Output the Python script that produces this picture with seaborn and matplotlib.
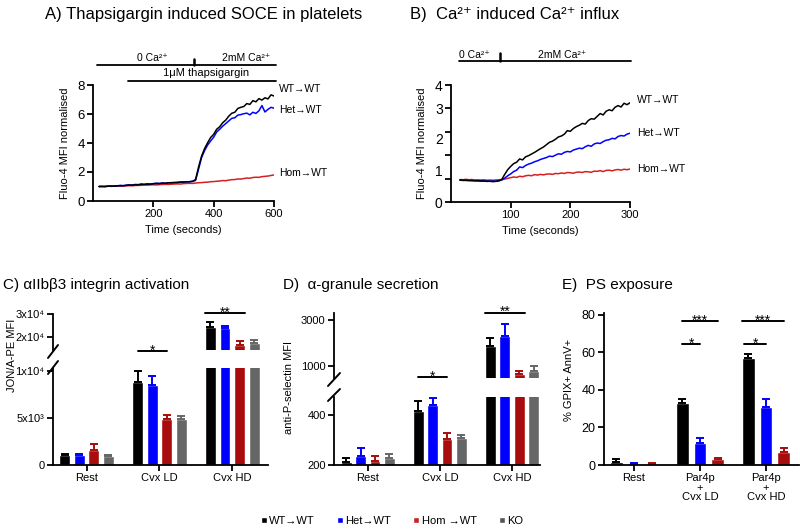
import numpy as np
import pandas as pd
import seaborn as sns
import matplotlib.pyplot as plt
from matplotlib.patches import Patch
from matplotlib.lines import Line2D

# ---- traces (A: thapsigargin SOCE, B: Ca2+ induced influx) ----
t_A = np.arange(20, 601, 10)
wt_A = [1.00, 1.01, 0.99, 1.02, 1.03, 1.02, 1.05, 1.06, 1.05, 1.08,
        1.10, 1.09, 1.12, 1.11, 1.15, 1.14, 1.17, 1.16, 1.19, 1.21,
        1.20, 1.23, 1.22, 1.26, 1.25, 1.28, 1.27, 1.31, 1.30, 1.33,
        1.32, 1.36, 1.48, 2.35, 3.10, 3.62, 4.02, 4.38, 4.60, 4.95,
        5.12, 5.40, 5.58, 5.85, 6.05, 6.12, 6.38, 6.46, 6.52, 6.72,
        6.66, 6.92, 6.84, 7.06, 6.96, 7.12, 7.04, 7.32, 7.24]
het_A = [1.00, 0.99, 1.01, 1.03, 1.02, 1.04, 1.04, 1.07, 1.06, 1.09,
         1.11, 1.10, 1.14, 1.13, 1.17, 1.15, 1.18, 1.17, 1.20, 1.22,
         1.21, 1.24, 1.23, 1.25, 1.27, 1.26, 1.29, 1.30, 1.32, 1.31,
         1.34, 1.35, 1.42, 2.20, 3.00, 3.48, 3.86, 4.14, 4.40, 4.76,
         4.95, 5.16, 5.34, 5.52, 5.70, 5.74, 5.92, 5.96, 6.02, 6.06,
         5.94, 6.12, 6.04, 6.22, 6.58, 6.14, 6.32, 6.46, 6.40]
hom_A = [1.00, 1.01, 1.00, 1.02, 1.01, 1.02, 1.03, 1.03, 1.04, 1.04,
         1.06, 1.05, 1.07, 1.08, 1.08, 1.10, 1.09, 1.11, 1.12, 1.11,
         1.13, 1.14, 1.15, 1.14, 1.16, 1.17, 1.18, 1.17, 1.20, 1.21,
         1.22, 1.21, 1.24, 1.26, 1.27, 1.29, 1.30, 1.33, 1.34, 1.36,
         1.38, 1.41, 1.40, 1.44, 1.47, 1.48, 1.52, 1.51, 1.55, 1.58,
         1.57, 1.62, 1.64, 1.63, 1.68, 1.70, 1.72, 1.76, 1.80]

t_B = np.arange(15, 301, 5)
wt_B = [0.94, 0.92, 0.93, 0.91, 0.92, 0.90, 0.91, 0.89, 0.90, 0.88,
        0.89, 0.87, 0.88, 0.90, 0.96, 1.18, 1.38, 1.52, 1.64, 1.70,
        1.84, 1.80, 1.93, 1.98, 2.05, 2.12, 2.20, 2.28, 2.35, 2.45,
        2.55, 2.60, 2.68, 2.78, 2.82, 2.90, 3.05, 3.02, 3.14, 3.22,
        3.28, 3.36, 3.33, 3.48, 3.56, 3.54, 3.66, 3.78, 3.72, 3.88,
        3.94, 3.90, 4.05, 4.12, 4.06, 4.22, 4.16, 4.24]
het_B = [0.93, 0.94, 0.92, 0.93, 0.91, 0.92, 0.90, 0.91, 0.89, 0.90,
         0.88, 0.90, 0.89, 0.91, 0.94, 1.02, 1.12, 1.20, 1.30, 1.36,
         1.50, 1.47, 1.56, 1.62, 1.66, 1.72, 1.76, 1.82, 1.86, 1.90,
         1.96, 1.94, 2.00, 2.06, 2.04, 2.12, 2.16, 2.14, 2.22, 2.26,
         2.30, 2.28, 2.36, 2.42, 2.38, 2.48, 2.52, 2.50, 2.58, 2.64,
         2.66, 2.72, 2.70, 2.80, 2.84, 2.82, 2.90, 2.94]
hom_B = [0.96, 0.95, 0.97, 0.95, 0.96, 0.94, 0.95, 0.94, 0.95, 0.93,
         0.94, 0.93, 0.94, 0.95, 0.96, 0.98, 1.01, 1.04, 1.07, 1.05,
         1.10, 1.08, 1.12, 1.14, 1.12, 1.17, 1.15, 1.18, 1.16, 1.19,
         1.20, 1.18, 1.22, 1.21, 1.24, 1.22, 1.26, 1.25, 1.23, 1.27,
         1.28, 1.26, 1.30, 1.29, 1.27, 1.32, 1.31, 1.34, 1.30, 1.35,
         1.36, 1.33, 1.37, 1.39, 1.36, 1.40, 1.38, 1.41]

# ---- bar data (mean, SEM) ----
genotypes = ["WT→WT", "Het→WT", "Hom →WT", "KO"]
groups_CD = ["Rest", "Cvx LD", "Cvx HD"]
groups_E = ["Rest", "Par4p\n+\nCvx LD", "Par4p\n+\nCvx HD"]

C_mean = {"WT→WT": [1060, 8800, 24500], "Het→WT": [1100, 8500, 23800],
          "Hom →WT": [1600, 4900, 16500], "KO": [950, 4900, 17200]}
C_err = {"WT→WT": [80, 1200, 1900], "Het→WT": [60, 1000, 1100],
         "Hom →WT": [600, 400, 1700], "KO": [150, 300, 1500]}

D_mean = {"WT→WT": [213, 417, 1870], "Het→WT": [236, 441, 2317],
          "Hom →WT": [217, 304, 652], "KO": [227, 309, 782]}
D_err = {"WT→WT": [16, 39, 334], "Het→WT": [33, 26, 509],
         "Hom →WT": [19, 23, 130], "KO": [17, 11, 218]}

E_mean = {"WT→WT": [1.4, 33.0, 57.0], "Het→WT": [0.7, 11.5, 30.8],
          "Hom →WT": [0.6, 3.2, 6.9]}
E_err = {"WT→WT": [1.6, 2.4, 2.3], "Het→WT": [0.3, 3.0, 4.2],
         "Hom →WT": [0.3, 0.7, 1.9]}

bar_colors = {"WT→WT": "#000000", "Het→WT": "#0000ff", "Hom →WT": "#a80c0c", "KO": "#666666"}

sns.set_theme(style="ticks", rc={"axes.edgecolor": "black", "xtick.color": "black",
                                 "ytick.color": "black", "text.color": "black",
                                 "axes.labelcolor": "black"})
plt.rcParams['font.family'] = ['Liberation Sans', 'DejaVu Sans']

W, H = 800, 530
fig = plt.figure(figsize=(8, 5.3), dpi=100)


def add_ax(l, r, t, b):
    return fig.add_axes([l / W, 1 - b / H, (r - l) / W, (b - t) / H])


def style(ax, bottom=True):
    sns.despine(ax=ax)
    for s in ["left", "bottom"]:
        ax.spines[s].set_linewidth(1.3)
    ax.tick_params(width=1.3, length=4, pad=2, labelsize=8)
    ax.set_facecolor("none")
    if not bottom:
        ax.spines["bottom"].set_visible(False)
        ax.tick_params(axis="x", bottom=False, labelbottom=False)


def fig_line(x0, y0, x1, y1):
    fig.add_artist(Line2D([x0 / W, x1 / W], [1 - y0 / H, 1 - y1 / H], color="black", lw=1.4))


# ================= A =================
axA = add_ax(93, 274, 85, 201)
sns.lineplot(x=t_A, y=hom_A, color="#d42020", lw=1.1, estimator=None, ax=axA)
sns.lineplot(x=t_A, y=het_A, color="#0000ff", lw=1.1, estimator=None, ax=axA)
sns.lineplot(x=t_A, y=wt_A, color="black", lw=1.1, estimator=None, ax=axA)
axA.set_xlim(0, 600)
axA.set_ylim(0, 8)
axA.set_xticks([200, 400, 600])
axA.set_yticks([0, 2, 4, 6, 8])
style(axA)
axA.tick_params(axis="y", labelsize=9.5)
axA.set_xlabel("Time (seconds)", fontsize=8, labelpad=4)
axA.set_ylabel("Fluo-4 MFI normalised", fontsize=8)
axA.yaxis.set_label_coords(-0.125, 0.5)
for lab, yv in [("WT→WT", 7.72), ("Het→WT", 6.28), ("Hom→WT", 1.93)]:
    axA.text(617, yv, lab, fontsize=7.5, ha="left", va="center", clip_on=False)
axA.plot([13, 607], [9.38, 9.38], color="black", lw=1.3, clip_on=False)
axA.plot([335, 335], [9.38, 9.8], color="black", lw=1.8, clip_on=False)
axA.plot([116, 607], [8.28, 8.28], color="black", lw=1.3, clip_on=False)
axA.text(196, 9.86, "0 Ca²⁺", fontsize=7.5, ha="center", va="center")
axA.text(507, 9.86, "2mM Ca²⁺", fontsize=7.5, ha="center", va="center")
axA.text(375, 8.83, "1μM thapsigargin", fontsize=8, ha="center", va="center")
fig.text(45 / W, 1 - 15 / H, "A) Thapsigargin induced SOCE in platelets", fontsize=12, va="center")

# ================= B =================
axB = add_ax(451, 630, 85, 202)
sns.lineplot(x=t_B, y=hom_B, color="#d42020", lw=1.1, estimator=None, ax=axB)
sns.lineplot(x=t_B, y=het_B, color="#0000ff", lw=1.1, estimator=None, ax=axB)
sns.lineplot(x=t_B, y=wt_B, color="black", lw=1.1, estimator=None, ax=axB)
axB.set_xlim(0, 300)
axB.set_ylim(0, 5)
axB.set_xticks([100, 200, 300])
# the published axis has its tick labels out of step with the tick marks
axB.set_yticks(range(6), labels=["0", "", "", "", "3", "4"])
axB.set_yticks([1.36, 2.71], labels=["1", "2"], minor=True)
style(axB)
axB.tick_params(axis="y", which="major", labelsize=10)
axB.tick_params(axis="y", which="minor", length=0, labelsize=10, pad=6)
axB.set_xlabel("Time (seconds)", fontsize=8, labelpad=4)
axB.set_ylabel("Fluo-4 MFI normalised", fontsize=8)
axB.yaxis.set_label_coords(-0.134, 0.5)
for lab, yv in [("WT→WT", 4.36), ("Het→WT", 2.95), ("Hom→WT", 1.41)]:
    axB.text(312, yv, lab, fontsize=7.5, ha="left", va="center", clip_on=False)
axB.plot([13, 302], [6.03, 6.03], color="black", lw=1.3, clip_on=False)
axB.plot([82, 82], [6.03, 6.35], color="black", lw=1.8, clip_on=False)
axB.text(40, 6.3, "0 Ca²⁺", fontsize=7.5, ha="center", va="center")
axB.text(186, 6.3, "2mM Ca²⁺", fontsize=7.5, ha="center", va="center")
fig.text(410 / W, 1 - 15 / H, "B)  Ca²⁺ induced Ca²⁺ influx", fontsize=12, va="center")


# ================= bar helpers =================
def long_df(means, groups):
    rows = []
    for g in means:
        for grp, v in zip(groups, means[g]):
            rows.append({"group": grp, "geno": g, "value": v})
    return pd.DataFrame(rows)


def draw_bars(ax, means, errs, groups, gap, subset=None):
    hue_order = list(means.keys())
    df = long_df(means, groups)
    if subset is not None:
        df = df[df["group"].isin(subset)]
    sns.barplot(data=df, x="group", y="value", hue="geno", order=groups, hue_order=hue_order,
                palette=bar_colors, errorbar=None, width=0.8, gap=gap, saturation=1,
                legend=False, ax=ax)
    pos = {}
    for cont, g in zip(ax.containers, hue_order):
        for bar in cont:
            xc = bar.get_x() + bar.get_width() / 2
            gi = int(round(xc))
            pos[(g, gi)] = (bar.get_x(), xc, bar.get_x() + bar.get_width())
            ax.errorbar(xc, bar.get_height(), yerr=[[0], [errs[g][gi]]], fmt="none",
                        ecolor=bar_colors[g], elinewidth=1.4, capsize=3, capthick=1.4)
    ax.set_xlabel("")
    ax.set_ylabel("")
    return pos


def sig(ax, x0, x1, y, txt):
    ax.plot([x0, x1], [y, y], color="black", lw=1.4, clip_on=False)
    ax.annotate(txt, xy=((x0 + x1) / 2, y), xytext=(0, -2.5), textcoords="offset points",
                ha="center", va="baseline", fontsize=10, annotation_clip=False)


# ================= C =================
cLo = add_ax(53, 268, 368, 465)
cHi = add_ax(53, 268, 314, 350)
pC = draw_bars(cLo, C_mean, C_err, groups_CD, 0.25)
draw_bars(cHi, C_mean, C_err, groups_CD, 0.25, subset=["Cvx HD"])
for ax in (cLo, cHi):
    ax.set_xlim(-0.46, 2.49)
cLo.set_ylim(0, 10320)
cHi.set_ylim(14300, 30000)
cLo.set_yticks([0, 5000, 10000], labels=["0", "5x10³", "1x10⁴"])
cHi.set_yticks([20000, 30000], labels=["2x10⁴", "3x10⁴"])
style(cLo)
style(cHi, bottom=False)
sig(cLo, pC[("WT→WT", 1)][1], pC[("Hom →WT", 1)][1], 12130, "*")
sig(cHi, pC[("WT→WT", 2)][0], pC[("Hom →WT", 2)][2], 30400, "**")
fig_line(48, 358, 58, 345)
fig_line(48, 374, 58, 361)
fig.text(12 / W, 1 - 355 / H, "JON/A-PE MFI", rotation=90, fontsize=8, ha="center", va="center")
fig.text(3 / W, 1 - 285 / H, "C) αIIbβ3 integrin activation", fontsize=11, va="center")

# ================= D =================
dLo = add_ax(334, 540, 397, 465)
dHi = add_ax(334, 540, 313, 378)
pD = draw_bars(dLo, D_mean, D_err, groups_CD, 0.25)
draw_bars(dHi, D_mean, D_err, groups_CD, 0.25, subset=["Cvx HD"])
for ax in (dLo, dHi):
    ax.set_xlim(-0.47, 2.39)
dLo.set_ylim(200, 472)
dHi.set_ylim(478, 3304)
dLo.set_yticks([200, 400])
dHi.set_yticks([1000, 3000])
style(dLo)
style(dHi, bottom=False)
sig(dLo, pD[("WT→WT", 1)][1], pD[("Hom →WT", 1)][1], 552, "*")
sig(dHi, pD[("WT→WT", 2)][0], pD[("Hom →WT", 2)][2], 3320, "**")
fig_line(328, 386, 340, 373)
fig_line(328, 401, 340, 389)
fig.text(289 / W, 1 - 387 / H, "anti-P-selectin MFI", rotation=90, fontsize=8, ha="center", va="center")
fig.text(283 / W, 1 - 285 / H, "D)  α-granule secretion", fontsize=11, va="center")

# ================= E =================
axE = add_ax(604, 799, 313, 465)
pE = draw_bars(axE, E_mean, E_err, groups_E, 0.3)
axE.set_xlim(-0.455, 2.5)
axE.set_ylim(0, 81)
axE.set_yticks([0, 20, 40, 60, 80])
style(axE)
axE.tick_params(axis="y", labelsize=9)
for lbl in axE.get_xticklabels():
    lbl.set_linespacing(0.9)
sig(axE, pE[("WT→WT", 1)][1], pE[("Hom →WT", 1)][1], 76.7, "***")
sig(axE, pE[("WT→WT", 1)][1], pE[("Het→WT", 1)][1], 64.5, "*")
sig(axE, pE[("WT→WT", 2)][0], pE[("Hom →WT", 2)][1], 76.7, "***")
sig(axE, pE[("WT→WT", 2)][0] + 0.03, pE[("Het→WT", 2)][1], 64.5, "*")
fig.text(569 / W, 1 - 380 / H, "% GPIX+ AnnV+", rotation=90, fontsize=8, ha="center", va="center")
fig.text(562 / W, 1 - 285 / H, "E)  PS exposure", fontsize=11, va="center")

# ================= legend =================
leg_colors = {"WT→WT": "#000000", "Het→WT": "#0000ff", "Hom →WT": "#cc2222", "KO": "#555555"}
handles = [Patch(facecolor=leg_colors[g], label=g) for g in genotypes]
fig.legend(handles=handles, loc="center", bbox_to_anchor=(0.49, 1 - 521 / H), ncol=4,
           frameon=False, fontsize=8, handlelength=0.55, handleheight=0.55,
           handletextpad=0.2, columnspacing=2.0)

fig.savefig("out.png", dpi=100)
